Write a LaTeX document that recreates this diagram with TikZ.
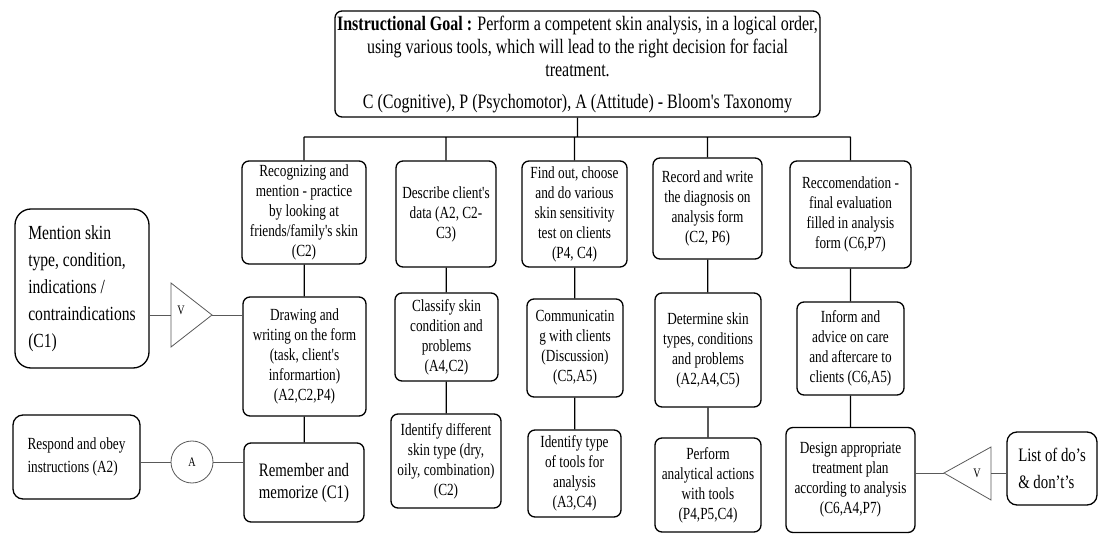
\documentclass[tikz,border=0pt]{standalone}
\usepackage{fontspec}
\setmainfont[FakeStretch=0.78,Ligatures=TeXOff]{Liberation Serif}

\begin{document}
\begin{tikzpicture}[x=1pt,y=-1pt,
  box/.style 2 args={draw,line width=1.3pt,rounded corners=7pt,align=center,inner sep=0pt,
    minimum width=#1,minimum height=#2,font=\fontsize{17}{20}\selectfont},
  link/.style={line width=1.3pt},
  thinlink/.style={line width=0.8pt,black!65},
  ring/.style={draw,circle,thinlink,minimum size=42pt,inner sep=0pt,text=black,font=\fontsize{13}{15}\selectfont},
  tag/.style={inner sep=0pt,font=\fontsize{13}{15}\selectfont}]
\useasboundingbox (0,0) rectangle (1098,534);
\node[box={485}{106},font=\fontsize{20.5}{23}\selectfont] (goal) at (577.5,64)
  {\textbf{Instructional Goal :} Perform a competent skin analysis, in a logical order,\\
   using various tools, which will lead to the right decision for facial\\
   treatment.\\[9pt]
   C (Cognitive), P (Psychomotor), A (Attitude) - Bloom's Taxonomy};
\node[box={124}{103}] (rec) at (304,212.5) {Recognizing and\\mention - practice\\by looking at\\friends/family's skin\\(C2)};
\node[box={123}{119}] (draw) at (304.5,356.5) {Drawing and\\writing on the form\\(task, client's\\informartion)\\(A2,C2,P4)};
\node[box={120}{79},font=\fontsize{19}{22}\selectfont] (mem) at (304,482.5) {Remember and\\memorize (C1)};
\node[box={100}{106}] (desc) at (446,214) {Describe client's\\data (A2, C2-\\C3)};
\node[box={103}{88}] (clas) at (446.5,337) {Classify skin\\condition and\\problems\\(A4,C2)};
\node[box={110}{94}] (iden) at (446,461) {Identify different\\skin type (dry,\\oily, combination)\\(C2)};
\node[box={105}{106}] (find) at (574.5,214) {Find out, choose\\and do various\\skin sensitivity\\test on clients\\(P4, C4)};
\node[box={96}{98}] (comm) at (575,348) {Communicatin\\g with clients\\(Discussion)\\(C5,A5)};
\node[box={93}{87}] (tool) at (574.5,473.5) {Identify type\\of tools for\\analysis\\(A3,C4)};
\node[box={109}{101}] (recd) at (707.5,208.5) {Record and write\\the diagnosis on\\analysis form\\(C2, P6)};
\node[box={106}{114}] (det) at (708,350) {Determine skin\\types, conditions\\and problems\\(A2,A4,C5)};
\node[box={106}{94}] (perf) at (708,485) {Perform\\analytical actions\\with tools\\(P4,P5,C4)};
\node[box={121}{107}] (reco) at (850.5,214.5) {Reccomendation -\\final evaluation\\filled in analysis\\form (C6,P7)};
\node[box={107}{93}] (info) at (850.5,348.5) {Inform and\\advice on care\\and aftercare to\\clients (C6,A5)};
\node[box={129}{105}] (desg) at (850.5,480) {Design appropriate\\treatment plan\\according to analysis\\(C6,A4,P7)};
\node[box={134}{159},rounded corners=16pt,align=left,font=\fontsize{20}{27}\selectfont] (ment) at (82,288.5)
  {Mention skin\\type, condition,\\indications /\\contraindications\\(C1)};
\node[box={127}{84},rounded corners=10pt,align=left,font=\fontsize{17}{23}\selectfont] (resp) at (76.5,457) {Respond and obey\\instructions (A2)};
\node[box={90}{73},rounded corners=10pt,align=left,font=\fontsize{19}{27}\selectfont] (list) at (1052,468.5) {List of do’s\\\& don’t’s};
\node[ring] (cA) at (192,462) {A};
\coordinate (bar) at (0,137);
\coordinate (vtipL) at (212,315);
\coordinate (vbaseL) at (171,315);
\coordinate (vtipR) at (944,473);
\coordinate (vbaseR) at (991,473);
\draw[thinlink] (vtipL) -- (171,283) -- (171,347) -- cycle;
\draw[thinlink] (vtipR) -- (991,447) -- (991,500) -- cycle;
\node[tag] (vL) at (181,310) {V};
\node[tag] (vR) at (977,473) {V};
\draw[link] (goal.south) -- (goal.south |- bar) (rec.north |- bar) -- (reco.north |- bar)
  (rec.north |- bar) -- (rec.north) (desc.north |- bar) -- (desc.north) (find.north |- bar) -- (find.north)
  (recd.north |- bar) -- (recd.north) (reco.north |- bar) -- (reco.north)
  (rec) -- (draw) (draw) -- (mem) (desc) -- (clas) (clas) -- (iden) (find) -- (comm) (comm) -- (tool)
  (recd) -- (det) (det) -- (perf) (reco) -- (info) (info) -- (desg);
\draw[thinlink] (ment.east |- vbaseL) -- (vbaseL) (vtipL) -- (vtipL -| draw.west)
  (resp.east |- cA) -- (cA) (cA) -- (cA -| mem.west)
  (desg.east |- vtipR) -- (vtipR) (vbaseR) -- (vbaseR -| list.west);
\end{tikzpicture}
\end{document}
